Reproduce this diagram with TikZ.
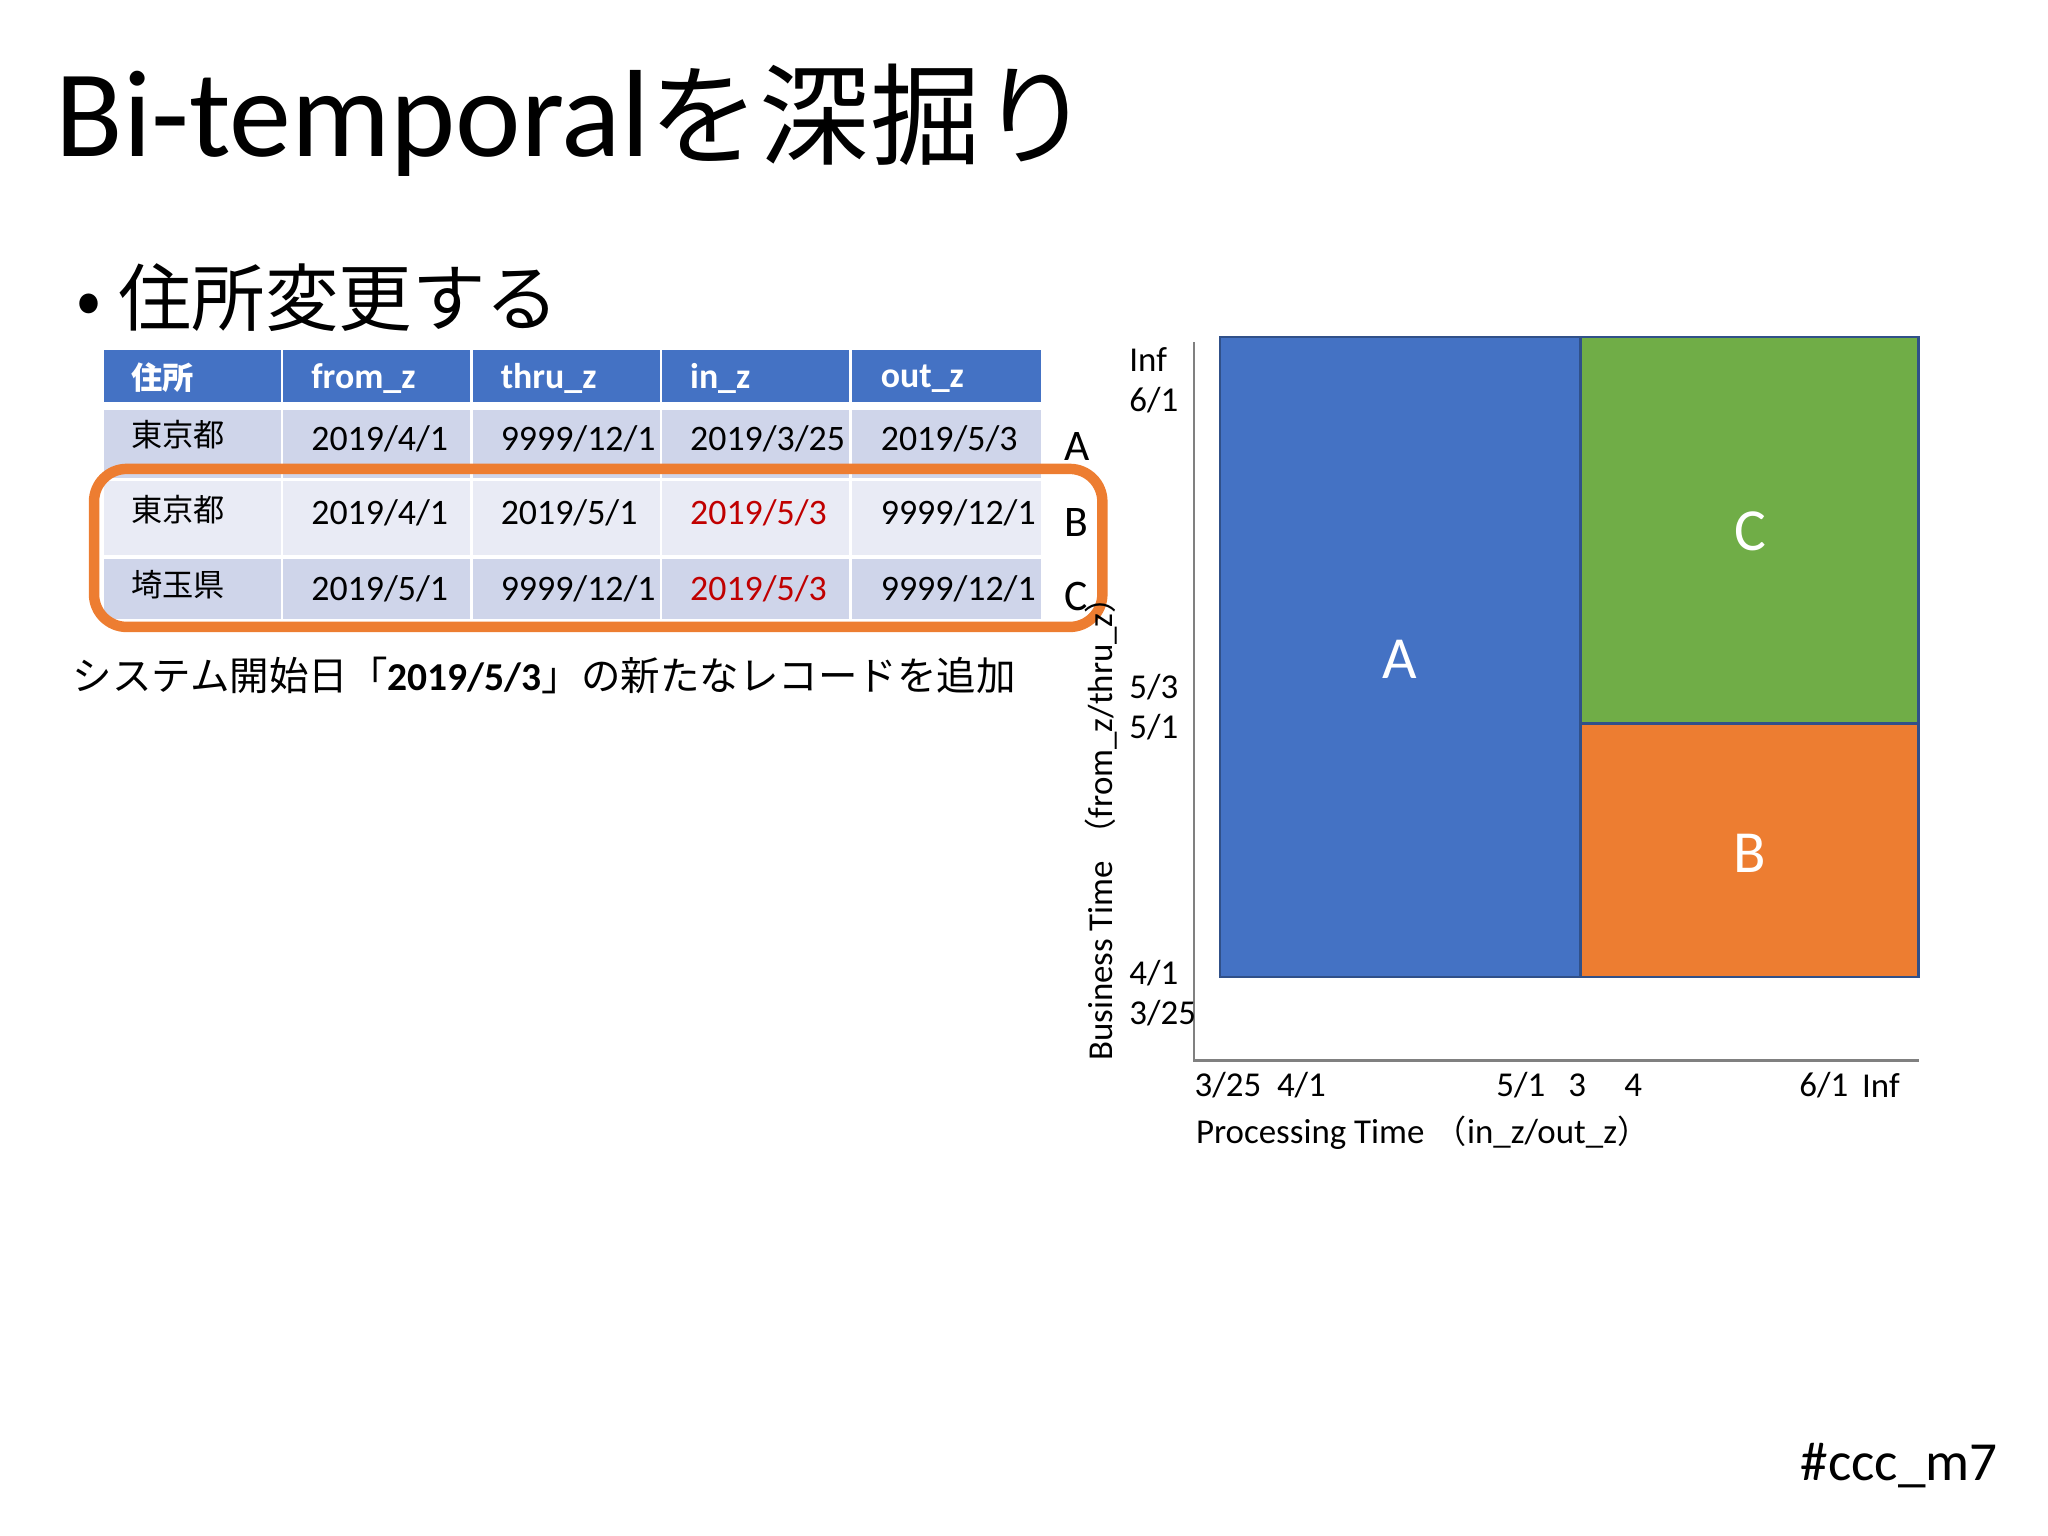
\documentclass[tikz,border=0pt]{standalone}
\usepackage{fontspec}
\setmainfont{Carlito}
\newfontfamily\jp{Noto Sans CJK JP}
\definecolor{hdr}{HTML}{4472C4}
\definecolor{rowa}{HTML}{CFD5EA}
\definecolor{rowb}{HTML}{E9EBF5}
\definecolor{org}{HTML}{ED7D31}
\definecolor{grn}{HTML}{70AD47}
\definecolor{red}{HTML}{C00000}
\tikzset{cell/.style={anchor=west,font=\fontsize{7.8}{9}\selectfont},
 jcell/.style={anchor=west,font=\fontsize{6.8}{8}\selectfont\jp},
 hcell/.style={anchor=west,font=\fontsize{7.8}{9}\selectfont\bfseries,text=white},
 tick/.style={anchor=west,font=\fontsize{7.6}{9}\selectfont,inner sep=0pt},
 big/.style={font=\fontsize{13}{16}\selectfont,text=white}}
\begin{document}
\begin{tikzpicture}[x=0.01cm,y=-0.01cm]
\useasboundingbox (0,0) rectangle (1568,1176);
\node[anchor=west,font=\fontsize{27}{32}\selectfont,inner sep=0pt] (title) at (42,92) {Bi-temporal{\jp\fontsize{24}{30}\selectfont を深掘り}};
\node[anchor=west,font=\fontsize{16}{20}\selectfont\jp,inner sep=0pt] (bul) at (58,228) {• 住所変更する};
% table
\foreach \xa/\xb [count=\i] in {80/215,217/360,362/505,507/650,652/797}{
  \fill[hdr] (\xa,268) rectangle (\xb,308);
  \fill[rowa] (\xa,314) rectangle (\xb,366);
  \fill[rowb] (\xa,368) rectangle (\xb,425);
  \fill[rowa] (\xa,428) rectangle (\xb,474);
}
\node[hcell] (h1) at (88,289) {\jp\fontsize{6.8}{8}\selectfont 住所};
\node[hcell] (h2) at (226,290) {from\_z};
\node[hcell] (h3) at (371,290) {thru\_z};
\node[hcell] (h4) at (516,290) {in\_z};
\node[hcell] (h5) at (662,290) {out\_z};
\node[jcell] (a1) at (88,333) {東京都};
\node[cell] (a2) at (226,336) {2019/4/1};
\node[cell] (a3) at (371,336) {9999/12/1};
\node[cell] (a4) at (516,336) {2019/3/25};
\node[cell] (a5) at (662,336) {2019/5/3};
\node[jcell] (b1) at (88,390) {東京都};
\node[cell] (b2) at (226,393) {2019/4/1};
\node[cell] (b3) at (371,393) {2019/5/1};
\node[cell,text=red] (b4) at (516,393) {2019/5/3};
\node[cell] (b5) at (662,393) {9999/12/1};
\node[jcell] (c1) at (88,448) {埼玉県};
\node[cell] (c2) at (226,451) {2019/5/1};
\node[cell] (c3) at (371,451) {9999/12/1};
\node[cell,text=red] (c4) at (516,451) {2019/5/3};
\node[cell] (c5) at (662,451) {9999/12/1};
\draw[org,line width=0.08cm,rounded corners=0.25cm] (72,359) rectangle (844,480);
\node[tick,font=\fontsize{9.5}{11}\selectfont] (la) at (814,342) {A};
\node[tick,font=\fontsize{9.5}{11}\selectfont] (lb) at (814,400) {B};
\node[tick,font=\fontsize{9.5}{11}\selectfont] (lc) at (814,457) {C};
\node[anchor=west,inner sep=0pt,font=\fontsize{8.6}{10}\selectfont] (cap) at (55,517) {{\jp システム開始日「}\textbf{2019/5/3}{\jp 」の新たなレコードを追加}};
% chart
\fill[hdr] (934,258) rectangle (1210,748);
\fill[grn] (1210,258) rectangle (1469,554);
\fill[org] (1210,554) rectangle (1469,748);
\draw[hdr!70!black,line width=0.6pt] (934,258) rectangle (1469,748) (1210,258) -- (1210,748) (1210,554) -- (1469,554);
\node[big] (A) at (1072,505) {A};
\node[big] (C) at (1340,407) {C};
\node[big] (B) at (1340,653) {B};
\draw[gray,line width=0.5pt] (914,262) -- (914,812) -- (1469,812);
\foreach \t/\y in {Inf/275,6\slash 1/306,5\slash 3/526,5\slash 1/557,4\slash 1/745,3\slash 25/776}{
  \node[tick] at (864,\y) {\t};}
\foreach \t/\x in {3\slash 25/914,4\slash 1/977,5\slash 1/1145,3/1200,4/1243,6\slash 1/1377,Inf/1425}{
  \node[tick] at (\x,831) {\t};}
\node[tick] (xl) at (915,867) {Processing Time\hspace{0.3em}{\jp\fontsize{7}{8}\selectfont （}in\_z/out\_z{\jp\fontsize{7}{8}\selectfont ）}};
\node[tick,rotate=90,anchor=west] (yl) at (843,813) {Business Time\hspace{0.3em}{\jp\fontsize{7}{8}\selectfont （}from\_z/thru\_z{\jp\fontsize{7}{8}\selectfont ）}};
\node[anchor=east,inner sep=0pt,font=\fontsize{12}{14}\selectfont] (tag) at (1530,1122) {\#ccc\_m7};
\end{tikzpicture}
\end{document}
